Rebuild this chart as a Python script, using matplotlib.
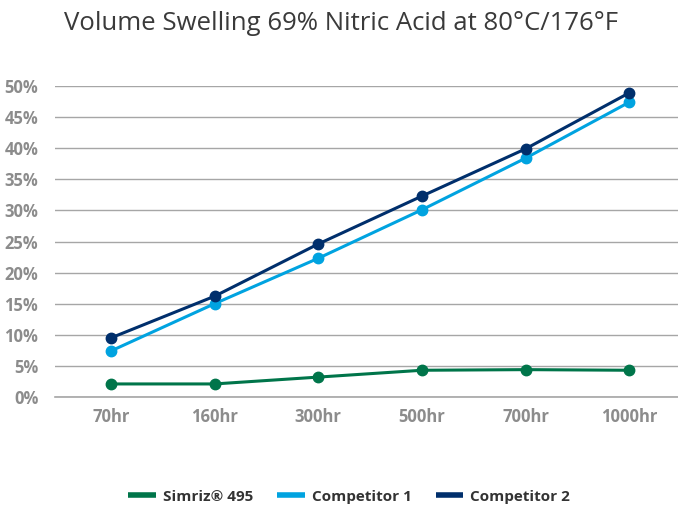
import matplotlib
matplotlib.use("Agg")
import matplotlib.pyplot as plt
from matplotlib.ticker import PercentFormatter

# data
hours = ["70hr", "160hr", "300hr", "500hr", "700hr", "1000hr"]
simriz = [2.1, 2.1, 3.2, 4.3, 4.4, 4.3]
comp1 = [7.4, 15.0, 22.3, 30.1, 38.4, 47.4]
comp2 = [9.5, 16.2, 24.6, 32.3, 39.9, 48.9]
series_names = ["Simriz® 495", "Competitor 1", "Competitor 2"]
series_colors = ["#00754a", "#00a3e0", "#002f6c"]

plt.rcParams['font.family'] = ['Open Sans', 'DejaVu Sans']

fig = plt.figure(figsize=(6.78, 5.08), dpi=100)
ax = fig.add_axes([0.081, 0.2185, 0.919, 0.6122])

x = range(len(hours))
for vals, name, col in zip([simriz, comp1, comp2], series_names, series_colors):
    ax.plot(x, vals, color=col, lw=2.2, marker='o', ms=7.5, label=name,
            solid_capstyle='round', zorder=3)

ax.set_xlim(-0.54, len(hours) - 0.53)
ax.set_ylim(0, 50)
ax.set_yticks(range(0, 51, 5))
ax.yaxis.set_major_formatter(PercentFormatter(decimals=0))
ax.set_xticks(list(x))
ax.set_xticklabels(hours)

ax.grid(axis='y', color='#a6a6a6', lw=1)
ax.set_axisbelow(True)
for s in ['top', 'right', 'left']:
    ax.spines[s].set_visible(False)
ax.spines['bottom'].set_color('#a6a6a6')
ax.spines['bottom'].set_linewidth(1.2)
ax.tick_params(axis='both', length=0, labelsize=12, labelcolor='#8c8c8c')
ax.tick_params(axis='x', pad=8)
ax.tick_params(axis='y', pad=12)
for lab in ax.get_xticklabels() + ax.get_yticklabels():
    lab.set_fontweight('bold')

fig.text(0.503, 0.953, "Volume Swelling 69% Nitric Acid at 80°C/176°F",
         ha='center', va='center', fontsize=18.5, color='#3a3a3a', fontweight='normal')

leg = fig.legend(loc='center', bbox_to_anchor=(0.515, 0.022), ncol=3, frameon=False,
                 handlelength=1.8, handletextpad=0.45, columnspacing=1.6,
                 prop={'size': 11, 'weight': 'bold'})
for h in leg.legend_handles:
    h.set_marker('')
    h.set_linewidth(4)
    h.set_solid_capstyle('butt')
for t in leg.get_texts():
    t.set_color('#333333')

fig.savefig("out.png", dpi=100)
